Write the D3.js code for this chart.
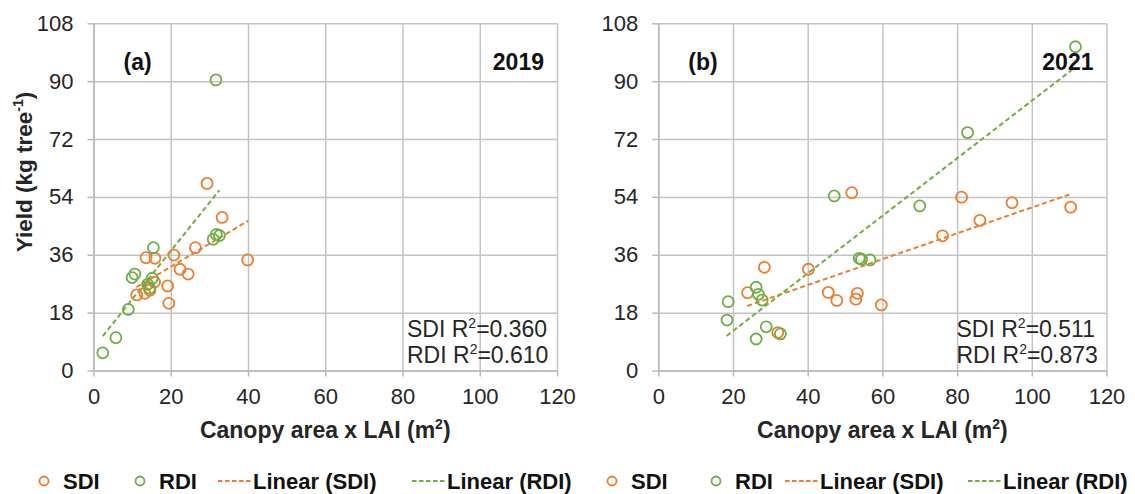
<!DOCTYPE html>
<html>
<head>
<meta charset="utf-8">
<script src="https://cdn.jsdelivr.net/npm/d3@7"></script>
<style>
  body { margin: 0; background: #fff; }
  svg { font-family: "Liberation Sans", Arial, sans-serif; }
  .grid line { stroke: #c4c4c4; stroke-width: 1.5; }
  .grid path { display: none; }
  .axis path, .axis line { stroke: #b8b8b8; stroke-width: 1.5; }
  .axis text { fill: #262626; font-size: 22px; }
</style>
</head>
<body>
<svg id="chart" width="1135" height="494"></svg>
<script>
// values: [canopy area x LAI, yield]
var sdi2019 = [[11.2,23.5],[13.3,24.0],[14.6,25.0],[15.8,27.5],[13.6,35.1],[15.9,34.9],[19.2,26.3],[19.5,20.9],
  [20.8,35.9],[22.4,31.5],[24.5,30.0],[26.4,38.2],[29.4,58.2],[33.3,47.6],[39.9,34.4]];
var rdi2019 = [[2.4,5.5],[5.8,10.2],[9.0,19.0],[10.0,28.9],[10.7,30.0],[14.0,26.8],[14.5,25.6],[15.2,28.7],
  [15.5,38.2],[31.0,40.8],[31.8,42.3],[32.6,42.0],[31.7,90.4]];
var sdi2021 = [[23.9,24.2],[28.4,32.1],[32.0,11.8],[40.2,31.5],[45.5,24.3],[47.8,21.8],[51.8,55.3],[52.9,22.2],
  [53.3,24.0],[59.7,20.4],[76.1,41.9],[81.2,53.9],[86.1,46.7],[94.7,52.2],[110.4,50.8]];
var rdi2021 = [[18.4,15.7],[18.7,21.4],[26.2,9.8],[26.2,25.9],[26.8,23.7],[27.8,21.9],[28.9,13.6],[32.7,11.4],
  [47.1,54.3],[53.8,34.9],[54.4,34.6],[56.7,34.4],[70.0,51.2],[82.8,74.0],[111.7,100.7]];

// linear fits: [slope, intercept, xmin, xmax]
var fitSdi2019 = [0.714, 17.97, 11.1, 40.1];
var fitRdi2019 = [1.503, 7.1, 2.4, 32.6];
var fitSdi2021 = [0.402, 10.5, 23.8, 110.8];
var fitRdi2021 = [0.895, -5.6, 18.3, 110.9];

var r2Labels2019 = ["0.360", "0.610"];
var r2Labels2021 = ["0.511", "0.873"];

var xTicks = [0, 20, 40, 60, 80, 100, 120];
var yTicks = [0, 18, 36, 54, 72, 90, 108];

var orange = "#ed7d31", green = "#70ad47";

var svg = d3.select("#chart");

var panels = [
  {left: 93.5, right: 557, tag: "(a)", year: "2019", sdi: sdi2019, rdi: rdi2019,
   fs: fitSdi2019, fr: fitRdi2019, r2: r2Labels2019, legendX: [44, 140, 218, 412]},
  {left: 658.3, right: 1106.5, tag: "(b)", year: "2021", sdi: sdi2021, rdi: rdi2021,
   fs: fitSdi2021, fr: fitRdi2021, r2: r2Labels2021, legendX: [612, 716, 785, 968]}
];
var plotTop = 23.3, plotBottom = 370.5;

panels.forEach(function(p) {
  var x = d3.scaleLinear().domain([0, 120]).range([p.left, p.right]);
  var y = d3.scaleLinear().domain([0, 108]).range([plotBottom, plotTop]);
  var w = p.right - p.left, h = plotBottom - plotTop;

  // gridlines
  svg.append("g").attr("class", "grid")
    .attr("transform", "translate(0," + plotBottom + ")")
    .call(d3.axisBottom(x).tickValues(xTicks).tickSize(-h).tickFormat(""));
  svg.append("g").attr("class", "grid")
    .attr("transform", "translate(" + p.left + ",0)")
    .call(d3.axisLeft(y).tickValues(yTicks).tickSize(-w).tickFormat(""));

  // axes
  svg.append("g").attr("class", "axis")
    .attr("transform", "translate(0," + plotBottom + ")")
    .call(d3.axisBottom(x).tickValues(xTicks).tickSizeInner(6).tickSizeOuter(0).tickPadding(12));
  svg.append("g").attr("class", "axis")
    .attr("transform", "translate(" + p.left + ",0)")
    .call(d3.axisLeft(y).tickValues(yTicks).tickSizeInner(6).tickSizeOuter(0).tickPadding(14));

  // trend lines
  [[p.fs, orange], [p.fr, green]].forEach(function(f) {
    var fit = f[0];
    svg.append("line")
      .attr("x1", x(fit[2])).attr("y1", y(fit[0] * fit[2] + fit[1]))
      .attr("x2", x(fit[3])).attr("y2", y(fit[0] * fit[3] + fit[1]))
      .attr("stroke", f[1]).attr("stroke-width", 2)
      .attr("stroke-dasharray", "5,3");
  });

  // points
  [[p.sdi, orange], [p.rdi, green]].forEach(function(s) {
    svg.append("g").selectAll("circle")
      .data(s[0])
      .enter().append("circle")
        .attr("cx", function(d) { return x(d[0]); })
        .attr("cy", function(d) { return y(d[1]); })
        .attr("r", 5.5)
        .attr("fill", "none")
        .attr("stroke", s[1])
        .attr("stroke-width", 1.8);
  });

  // panel tag and year
  svg.append("text").attr("x", p.left + 30).attr("y", 70)
    .attr("font-size", 23).attr("font-weight", "bold").attr("fill", "#111").text(p.tag);
  svg.append("text").attr("x", p.right - 13).attr("y", 70)
    .attr("font-size", 23).attr("font-weight", "bold").attr("fill", "#111")
    .attr("text-anchor", "end").text(p.year);

  ["SDI", "RDI"].forEach(function(k, i) {
    var t = svg.append("text").attr("x", p.right - 150).attr("y", 337 + i * 26)
      .attr("font-size", 23).attr("fill", "#262626");
    t.append("tspan").text(k + " R");
    t.append("tspan").attr("font-size", 14).attr("dy", -9).text("2");
    t.append("tspan").attr("dy", 9).text("=" + p.r2[i]);
  });

  // x title
  var xt = svg.append("text").attr("x", (p.left + p.right) / 2).attr("y", 438)
    .attr("text-anchor", "middle").attr("font-size", 23).attr("font-weight", "bold").attr("fill", "#262626");
  xt.append("tspan").text("Canopy area x LAI (m");
  xt.append("tspan").attr("font-size", 14).attr("dy", -9).text("2");
  xt.append("tspan").attr("dy", 9).text(")");

  // legend
  var ly = 481, lx = p.legendX;
  svg.append("circle").attr("cx", lx[0]).attr("cy", ly).attr("r", 4.5)
    .attr("fill", "none").attr("stroke", orange).attr("stroke-width", 1.8);
  svg.append("text").attr("x", lx[0] + 19).attr("y", ly + 8).attr("font-size", 22)
    .attr("font-weight", "bold").attr("fill", "#111").text("SDI");
  svg.append("circle").attr("cx", lx[1]).attr("cy", ly).attr("r", 4.5)
    .attr("fill", "none").attr("stroke", green).attr("stroke-width", 1.8);
  svg.append("text").attr("x", lx[1] + 19).attr("y", ly + 8).attr("font-size", 22)
    .attr("font-weight", "bold").attr("fill", "#111").text("RDI");
  [[lx[2], orange, "Linear (SDI)"], [lx[3], green, "Linear (RDI)"]].forEach(function(e) {
    svg.append("line").attr("x1", e[0]).attr("x2", e[0] + 34).attr("y1", ly).attr("y2", ly)
      .attr("stroke", e[1]).attr("stroke-width", 1.8).attr("stroke-dasharray", "4.5,2.5");
    svg.append("text").attr("x", e[0] + 35).attr("y", ly + 8).attr("font-size", 22)
      .attr("font-weight", "bold").attr("fill", "#111").text(e[2]);
  });
});

// y title (left panel only)
var yt = svg.append("text")
  .attr("transform", "translate(32,172) rotate(-90)")
  .attr("text-anchor", "middle").attr("font-size", 22.5).attr("font-weight", "bold").attr("fill", "#262626");
yt.append("tspan").text("Yield (kg tree");
yt.append("tspan").attr("font-size", 14).attr("dy", -9).text("-1");
yt.append("tspan").attr("dy", 9).text(")");
</script>
</body>
</html>
